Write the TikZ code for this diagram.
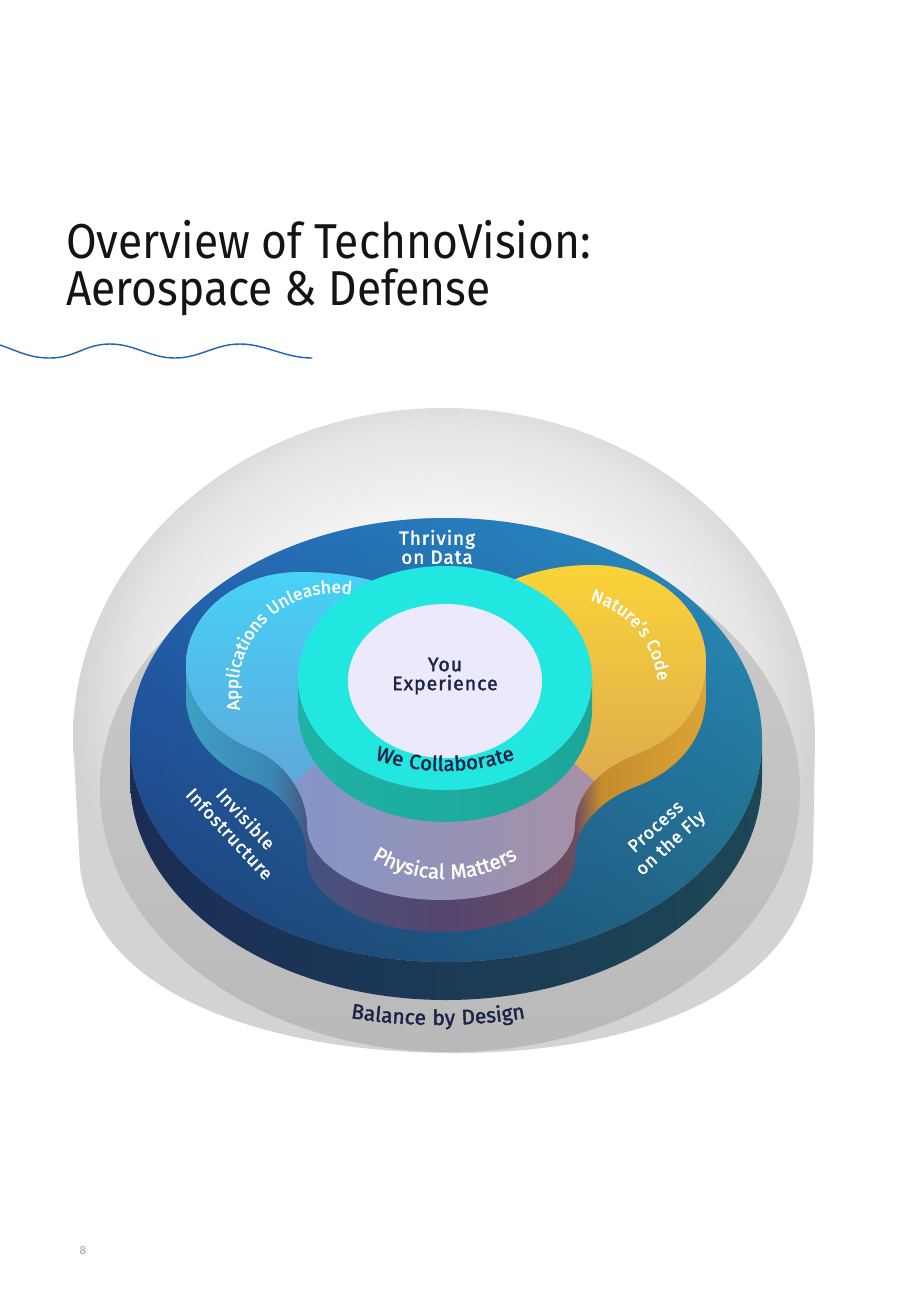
\documentclass[tikz,border=0pt]{standalone}
\usepackage{fontspec}
\setmainfont{Fira Sans}
\newfontfamily\labfont{Fira Sans}[LetterSpace=5, FakeBold=1.8]
\newfontfamily\arcfont{Fira Sans}[LetterSpace=5, FakeBold=1.8]
\usetikzlibrary{decorations.text}

\definecolor{titlec}{HTML}{141414}
\definecolor{wavec}{HTML}{1F63B4}
\definecolor{pagec}{HTML}{A0A0A0}
\definecolor{baseTop}{HTML}{CDCDCD}
\definecolor{baseBot}{HTML}{B9B9B9}
\definecolor{platSideL}{HTML}{1B2D56}
\definecolor{platSideM}{HTML}{131C33}
\definecolor{platSideR}{HTML}{1C4755}
\definecolor{platTopT}{HTML}{2B7DD2}
\definecolor{platTopB}{HTML}{1A2B52}
\definecolor{platOverL}{HTML}{1F4D9C}
\definecolor{platOverR}{HTML}{26A3AE}
\definecolor{LsA}{HTML}{3FA3C6}
\definecolor{LsB}{HTML}{3A86B2}
\definecolor{BsA}{HTML}{48527E}
\definecolor{BsB}{HTML}{544670}
\definecolor{BsC}{HTML}{6B4B5E}
\definecolor{RsA}{HTML}{C68C2C}
\definecolor{RsB}{HTML}{DEA636}
\definecolor{Lt}{HTML}{45D5F9}
\definecolor{Lb}{HTML}{5FA6DA}
\definecolor{Rt}{HTML}{FBD636}
\definecolor{Rb}{HTML}{DCAA50}
\definecolor{Bl}{HTML}{7698D6}
\definecolor{Bm}{HTML}{9088C4}
\definecolor{Br}{HTML}{B48E98}
\definecolor{cyanTop}{HTML}{22E7E1}
\definecolor{cyanSideL}{HTML}{1FB2A4}
\definecolor{cyanSideM}{HTML}{17988D}
\definecolor{cyanSideR}{HTML}{1BA699}
\definecolor{core}{HTML}{EBE9FB}
\definecolor{navy}{HTML}{1C2448}
\definecolor{dm0}{HTML}{FCFCFC}
\definecolor{dm1}{HTML}{F3F3F3}
\definecolor{dm2}{HTML}{E6E6E6}
\definecolor{dm3}{HTML}{D3D3D3}

\pgfdeclarehorizontalshading{trefside}{100bp}{color(0bp)=(LsA); color(25bp)=(LsA); color(34bp)=(LsB); color(37.5bp)=(BsA); color(50bp)=(BsB); color(62bp)=(BsC); color(64.5bp)=(RsA); color(75bp)=(RsB); color(100bp)=(RsB)}
\pgfdeclareradialshading{domesh}{\pgfpoint{0bp}{4bp}}{color(0bp)=(dm0); color(14bp)=(dm1); color(21bp)=(dm2); color(25bp)=(dm3); color(50bp)=(dm3)}

\newcommand\treff[1]{(300,572+#1) .. controls (237,572+#1) and (186,614+#1) .. (186,665+#1)
 .. controls (186,700+#1) and (212,733+#1) .. (255,750+#1)
 .. controls (285,762+#1) and (307,795+#1) .. (307,825+#1)
 .. controls (307,866+#1) and (367,900+#1) .. (441,900+#1)
 .. controls (515,900+#1) and (575,866+#1) .. (575,825+#1)
 .. controls (575,795+#1) and (600,768+#1) .. (635,755+#1)
 .. controls (680,738+#1) and (706,705+#1) .. (706,662+#1)
 .. controls (706,608+#1) and (655,565+#1) .. (592,565+#1)
 .. controls (545,565+#1) and (505,580+#1) .. (480,598+#1)
 .. controls (462,612+#1) and (428,612+#1) .. (410,598+#1)
 .. controls (385,580+#1) and (345,572+#1) .. (300,572+#1) -- cycle}

\tikzset{
  titlefont/.style={font=\fontsize{49}{52}\selectfont, text=titlec, inner sep=0pt, anchor=base west, xscale=0.905},
  whitelab/.style={font=\labfont\fontsize{19}{19}\selectfont, text=white, align=center, inner sep=0pt},
  darklab/.style={font=\labfont\fontsize{19.5}{19}\selectfont, text=navy, align=center, inner sep=0pt},
  wave/.style={draw=wavec, line width=1.4pt, line cap=round},
}

\begin{document}
\begin{tikzpicture}[x=1pt,y=-1pt]
\fill[white] (0,0) rectangle (920,1302);
\useasboundingbox (0,0) rectangle (920,1302);

% title
\node[titlefont] (t1) at (66,258) {Overview of TechnoVision:};
\node[titlefont] (t2) at (66,305) {Aerospace \& Defense};
\draw[wave] (0,345) .. controls (20,352) and (30,358) .. (50,358)
  .. controls (75,358) and (85,344) .. (110,344)
  .. controls (135,344) and (150,358) .. (175,358)
  .. controls (200,358) and (215,344) .. (240,344)
  .. controls (265,344) and (285,358) .. (312,358);

% dome
\shade[shading=domesh]
  (73,740) .. controls (73,557) and (239,408) .. (444,408)
  .. controls (649,408) and (815,557) .. (815,740)
  -- (813,860) .. controls (800,990) and (640,1053) .. (455,1053)
  .. controls (280,1053) and (95,1000) .. (80,867) -- cycle;
% base disc
\shade[top color=baseTop, bottom color=baseBot] (450,790) ellipse [x radius=350, y radius=262];

% platform side
\shade[left color=platSideL, middle color=platSideM, right color=platSideR]
  (130,740) -- (130,778) arc[start angle=180, end angle=0, x radius=316, y radius=222]
  -- (762,740) arc[start angle=0, end angle=180, x radius=316, y radius=222] -- cycle;
% platform top
\shade[top color=platTopT, bottom color=platTopB] (446,740) ellipse [x radius=316, y radius=222];
\shade[left color=platOverL, right color=platOverR, opacity=0.5] (446,740) ellipse [x radius=316, y radius=222];

% trefoil side
\begin{scope}
  \clip foreach \d in {0,2,...,32} {\treff{\d}};
  \shade[shading=trefside] (175,555) rectangle (715,940);
\end{scope}
% trefoil top
\begin{scope}
  \clip \treff{0};
  \shade[left color=Bl, middle color=Bm, right color=Br] (175,555) rectangle (715,905);
  \shade[top color=Lt, bottom color=Lb] (175,555) -- (440,555) -- (440,650) -- (322,758) -- (285,790) -- (175,790) -- cycle;
  \shade[top color=Rt, bottom color=Rb] (450,555) -- (715,555) -- (715,790) -- (605,790) -- (568,758) -- (450,650) -- cycle;
\end{scope}

% cyan cylinder
\shade[left color=cyanSideL, middle color=cyanSideM, right color=cyanSideR]
  (298,678) -- (298,710) arc[start angle=180, end angle=0, x radius=147, y radius=112]
  -- (592,678) arc[start angle=0, end angle=180, x radius=147, y radius=112] -- cycle;
\fill[cyanTop] (445,678) ellipse [x radius=147, y radius=112];
\fill[core] (445,681) ellipse [x radius=97, y radius=77];

% straight labels
\node[whitelab] (thriving) at (437,547) {Thriving\\on Data};
\node[darklab] (you) at (445,676) {You\\Experience};
\node[whitelab, rotate=-47, font=\labfont\fontsize{18}{22}\selectfont] (invis) at (238,826) {Invisible\\Infostructure};
\node[whitelab, rotate=42, font=\labfont\fontsize{18}{22}\selectfont] (proc) at (664,836) {Process\\on the Fly};

% curved labels
\path[decorate, decoration={text along path, text align=center,
   text={|\arcfont\fontsize{17.5}{17.5}\selectfont\color{white}|Applications Unleashed}}]
  ([shift={(158:97)}]335,690) arc[start angle=158, end angle=290, radius=97];
\path[decorate, decoration={text along path, text align=center,
   text={|\arcfont\fontsize{17.5}{17.5}\selectfont\color{white}|Nature’s Code}}]
  ([shift={(275:93)}]565,690) arc[start angle=275, end angle=365, radius=93];
\path[decorate, decoration={text along path, text align=center,
   text={|\arcfont\fontsize{20.5}{20.5}\selectfont\color{navy}|We Collaborate}}]
  ([shift={(120:216)}]445,555) arc[start angle=120, end angle=60, radius=216];
\path[decorate, decoration={text along path, text align=center,
   text={|\arcfont\fontsize{20.5}{20.5}\selectfont\color{white}|Physical Matters}}]
  ([shift={(130:140)}]445,739) arc[start angle=130, end angle=50, radius=140];
\path[decorate, decoration={text along path, text align=center,
   text={|\arcfont\fontsize{21}{21}\selectfont\color{navy}|Balance by Design}}]
  ([shift={(102:551)}]438,474) arc[start angle=102, end angle=78, radius=551];

% page number
\node[font=\fontsize{12}{12}\selectfont, text=pagec, inner sep=0pt] (page) at (83,1250) {8};
\end{tikzpicture}
\end{document}
